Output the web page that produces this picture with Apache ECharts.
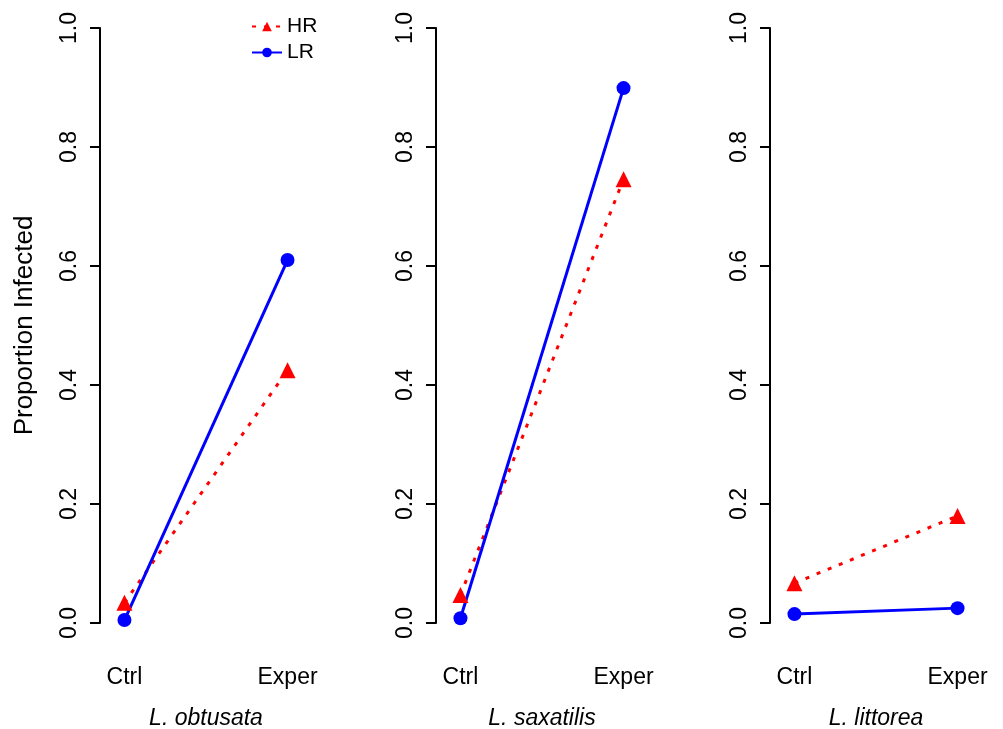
<!DOCTYPE html>
<html>
<head>
<meta charset="utf-8">
<script src="https://cdn.jsdelivr.net/npm/echarts@6/dist/echarts.min.js"></script>
<style>html,body{margin:0;padding:0;background:#fff}#c{width:1003px;height:729px}</style>
</head>
<body>
<div id="c"></div>
<script>
const categories = ['Ctrl', 'Exper'];
const species = ['L. obtusata', 'L. saxatilis', 'L. littorea'];
const hrValues = [[0.034, 0.425], [0.047, 0.746], [0.067, 0.180]];
const lrValues = [[0.005, 0.610], [0.008, 0.899], [0.015, 0.025]];
const yTicks = [0, 0.2, 0.4, 0.6, 0.8, 1.0];
const yTitle = 'Proportion Infected';

const FONT = 'Liberation Sans, Arial, Helvetica, sans-serif';
const gridLefts = [100, 436, 770];
const grids = [], xAxes = [], yAxes = [], series = [];
gridLefts.forEach((l, i) => {
  grids.push({left: l, top: 28, width: 212, height: 595, containLabel: false, outerBoundsMode: 'none'});
  xAxes.push({
    type: 'value', gridIndex: i, min: 0.85, max: 2.15,
    axisLine: {show: false}, axisTick: {show: false}, splitLine: {show: false},
    axisLabel: {
      customValues: [1, 2], margin: 43, fontSize: 23, color: '#000', fontFamily: FONT,
      formatter: v => categories[Math.round(v) - 1] || ''
    },
    name: species[i], nameLocation: 'middle', nameGap: 84,
    nameTextStyle: {fontSize: 23, fontStyle: 'italic', color: '#000', fontFamily: FONT}
  });
  yAxes.push({
    type: 'value', gridIndex: i, min: 0, max: 1, interval: 0.2,
    axisLine: {show: true, lineStyle: {color: '#000', width: 2}},
    axisTick: {show: true, length: 10, lineStyle: {color: '#000', width: 2}},
    splitLine: {show: false},
    axisLabel: {rotate: 90, margin: 19, fontSize: 23, color: '#000', fontFamily: FONT,
      formatter: v => v.toFixed(1)},
    name: i === 0 ? yTitle : '', nameLocation: 'middle', nameGap: 62, nameRotate: 90,
    nameTextStyle: {fontSize: 26, color: '#000', fontFamily: FONT}
  });
  series.push({
    name: 'HR', type: 'line', xAxisIndex: i, yAxisIndex: i, clip: false,
    data: hrValues[i].map((v, k) => [k + 1, v]),
    symbol: 'triangle', symbolSize: 16, color: '#FF0000',
    itemStyle: {color: '#FF0000'},
    lineStyle: {color: '#FF0000', width: 3, type: [4, 8]}
  });
  series.push({
    name: 'LR', type: 'line', xAxisIndex: i, yAxisIndex: i, clip: false,
    data: lrValues[i].map((v, k) => [k + 1, v]),
    symbol: 'circle', symbolSize: 14, color: '#0000FF',
    itemStyle: {color: '#0000FF'},
    lineStyle: {color: '#0000FF', width: 3}
  });
});

const chart = echarts.init(document.getElementById('c'), null, {renderer: 'canvas'});
chart.setOption({
  animation: false,
  backgroundColor: '#fff',
  legend: {
    data: ['HR', 'LR'], orient: 'vertical', left: 246, top: 11,
    itemWidth: 30, itemHeight: 12, itemGap: 5,
    textStyle: {fontSize: 21, color: '#000', fontFamily: FONT}
  },
  grid: grids, xAxis: xAxes, yAxis: yAxes, series: series
});
</script>
</body>
</html>
